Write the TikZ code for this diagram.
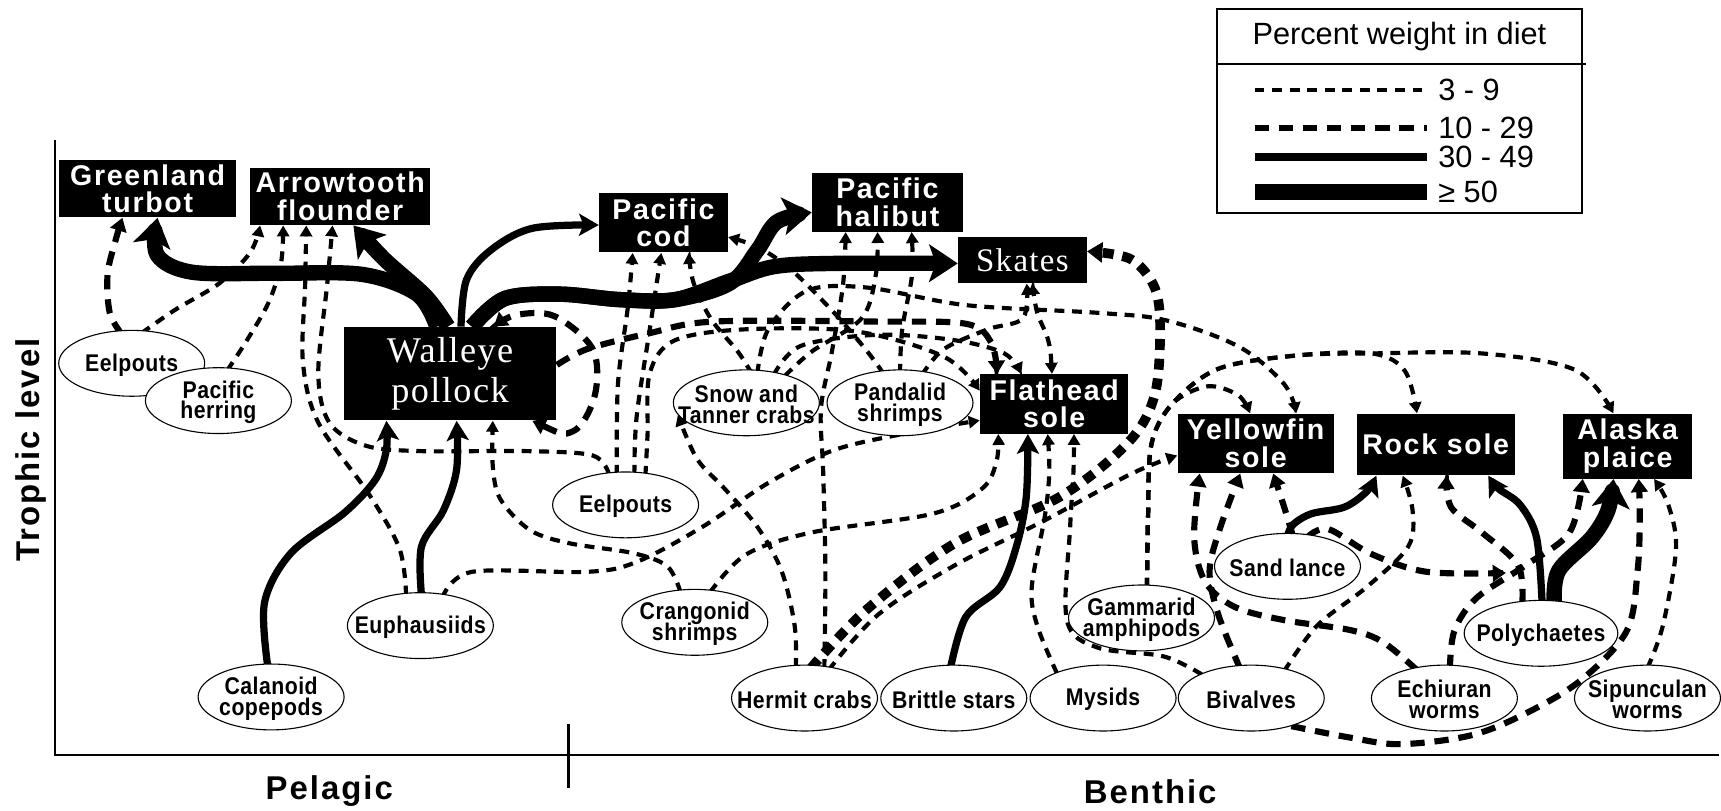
\documentclass[tikz,border=0pt]{standalone}
\usepackage{fontspec}
\usetikzlibrary{shapes.geometric,arrows.meta,calc}
\setmainfont{Liberation Sans}
\newfontfamily\lsans[LetterSpace=6]{Liberation Sans}
\newfontfamily\nsans[FakeStretch=0.88,LetterSpace=2]{Liberation Sans}
\newfontfamily\lserif[LetterSpace=4]{Liberation Serif}
\newcommand\pl[1]{\makebox[0pt]{\raisebox{-0.6ex}[0pt][0pt]{\parbox[c]{90pt}{\centering\lineskiplimit=-20pt #1}}}}
\pgfdeclarelayer{bg}
\pgfsetlayers{bg,main}
\tikzset{
 box/.style={fill=black,text=white,inner sep=0pt,align=center,font=\lsans\bfseries\fontsize{13}{12.5}\selectfont},
 prey/.style={ellipse,draw,line width=0.5pt,fill=white,inner sep=0pt,minimum width=66.5pt,minimum height=30pt,font=\nsans\bfseries\fontsize{11}{9.5}\selectfont},
 axlab/.style={font=\lsans\bfseries\fontsize{15}{17}\selectfont},
 wA/.style={line width=1.9pt,dash pattern=on 4.5pt off 3.5pt},
 wB/.style={line width=2.8pt,dash pattern=on 6.5pt off 4.5pt},
 wC/.style={line width=3.3pt},
 wD/.style={line width=7pt},
 wE/.style={line width=4.4pt,dash pattern=on 5pt off 4pt},
 aA/.style={wA,-{Triangle[length=5pt,width=5.5pt]}},
 aB/.style={wB,-{Triangle[length=6pt,width=7.5pt]}},
 aBB/.style={wB,{Triangle[length=6pt,width=7.5pt]}-{Triangle[length=6pt,width=7.5pt]}},
 aAA/.style={wA,{Triangle[length=5pt,width=5.5pt]}-{Triangle[length=5pt,width=5.5pt]}},
 aC/.style={wC,line join=round,-{Stealth[length=9pt,width=10pt,inset=2pt]}},
 aD/.style={wD,line join=round,-{Stealth[length=13pt,width=17pt,inset=3pt]}},
 aE/.style={wE,-{Triangle[length=7pt,width=9pt]}},
 sm/.style={smooth,tension=0.55},
}
\begin{document}
\begin{tikzpicture}[x=0.5pt,y=-0.5pt]
\useasboundingbox (0,0) rectangle (1568,738);
% axes
\coordinate (yTop) at (50,128); \coordinate (orig) at (50,688); \coordinate (xEnd) at (1566,688);
\draw[line width=1.1pt] (yTop) -- (orig) -- (xEnd);
\coordinate (tA) at (518,660); \coordinate (tB) at (518,718);
\draw[line width=1.1pt] (tA) -- (tB);
\node[axlab,rotate=90] (ylab) at (28,410) {Trophic level};
\node[axlab] (pel) at (300,721) {Pelagic};
\node[axlab] (ben) at (1048,721) {Benthic};
% legend
\node[draw,line width=0.8pt,minimum width=166pt,minimum height=93pt,inner sep=0pt] (leg) at (1275,101) {};
\coordinate (sepL) at (1109,58); \coordinate (sepR) at (1445,58);
\draw[line width=0.8pt] (sepL) -- (sepR);
\node[font=\fontsize{14}{16}\selectfont] (legT) at (1275,33) {Percent weight in diet};
\coordinate (L1a) at (1143,82); \coordinate (L1b) at (1300,82);
\coordinate (L2a) at (1143,117); \coordinate (L2b) at (1300,117);
\coordinate (L3a) at (1143,143); \coordinate (L3b) at (1300,143);
\coordinate (L4a) at (1143,175); \coordinate (L4b) at (1300,175);
\draw[wA] (L1a) -- (L1b);
\draw[wB] (L2a) -- (L2b);
\draw[wC] (L3a) -- (L3b);
\draw[wD] (L4a) -- (L4b);
\node[anchor=west,font=\fontsize{14}{16}\selectfont,inner sep=0pt] (lab1) at (1310,82) {3 - 9};
\node[anchor=west,font=\fontsize{14}{16}\selectfont,inner sep=0pt] (lab2) at (1310,117) {10 - 29};
\node[anchor=west,font=\fontsize{14}{16}\selectfont,inner sep=0pt] (lab3) at (1310,143) {30 - 49};
\node[anchor=west,font=\fontsize{14}{16}\selectfont,inner sep=0pt] (lab4) at (1310,175) {≥ 50};
% predators
\node[box,minimum width=80.5pt,minimum height=26pt] (GT) at (134.5,172) {Greenland\\turbot};
\node[box,minimum width=82pt,minimum height=26pt] (AF) at (310,179) {Arrowtooth\\flounder};
\node[box,minimum width=58.5pt,minimum height=27pt] (PC) at (604.5,203) {Pacific\\cod};
\node[box,minimum width=68.5pt,minimum height=26.5pt] (PH) at (808.5,184.5) {Pacific\\halibut};
\node[box,minimum width=58.5pt,minimum height=21pt,font=\lserif\fontsize{15}{16}\selectfont] (SK) at (931.5,237) {Skates};
\node[box,minimum width=97pt,minimum height=42.5pt,font=\lserif\fontsize{16.5}{18}\selectfont] (WP) at (410,340.5) {Walleye\\pollock};
\node[box,minimum width=67.5pt,minimum height=27pt] (FS) at (960.5,368) {Flathead\\sole};
\node[box,minimum width=71pt,minimum height=27pt] (YS) at (1144,404) {Yellowfin\\sole};
\node[box,minimum width=72pt,minimum height=28pt] (RS) at (1308,405) {Rock sole};
\node[box,minimum width=59pt,minimum height=29.5pt] (AP) at (1483,406.5) {Alaska\\plaice};
% prey
\node[prey] (EL1) at (120,331) {\pl{Eelpouts}};
\node[prey] (PHr) at (199,365) {\pl{Pacific\\herring}};
\node[prey] (SnT) at (680,367) {\pl{Snow and\\Tanner crabs}};
\node[prey] (PaS) at (820,367) {\pl{Pandalid\\shrimps}};
\node[prey] (EL2) at (570,460) {\pl{Eelpouts}};
\node[prey] (Eup) at (383,570) {\pl{Euphausiids}};
\node[prey] (Cal) at (247,635) {\pl{Calanoid\\copepods}};
\node[prey] (Cra) at (633,567) {\pl{Crangonid\\shrimps}};
\node[prey] (Gam) at (1040,563) {\pl{Gammarid\\amphipods}};
\node[prey] (SL) at (1173,516) {\pl{Sand lance}};
\node[prey,minimum width=70pt] (Poly) at (1404,577) {\pl{Polychaetes}};
\node[prey] (HC) at (733,636) {\pl{Hermit crabs}};
\node[prey] (BS) at (869,636) {\pl{Brittle stars}};
\node[prey] (My) at (1005,636) {\pl{Mysids}};
\node[prey] (Bv) at (1140,636) {\pl{Bivalves}};
\node[prey] (Ech) at (1316,636) {\pl{Echiuran\\worms}};
\node[prey] (Sip) at (1501,636) {\pl{Sipunculan\\worms}};
\coordinate (pq) at (1372,522);
\begin{pgfonlayer}{bg}
% walleye pollock as prey
\draw[aD] plot[sm] coordinates {($(WP.north)+(-12,0)$) (380,268) (330,250) (250,249) (175,248) (143,232) ($(GT.south)+(9,0)$)};
\draw[aD] plot[sm] coordinates {($(WP.north)+(-2,0)$) (388,270) (350,236) ($(AF.south)+(12,0)$)};
\draw[aC] plot[sm] coordinates {($(WP.north)+(10,0)$) (425,255) (447,228) (485,208) ($(PC.west)+(0,2)$)};
\draw[aD] plot[sm] coordinates {($(WP.north)+(20,0)$) (460,272) (510,268) (565,273) (615,273) (665,258) (690,228) (708,202) ($(PH.west)+(0,9)$)};
\draw[aD] plot[sm] coordinates {($(WP.north)+(20,0)$) (460,272) (510,268) (565,273) (615,273) (665,256) (705,243) (760,240) ($(SK.west)+(0,3)$)};
\draw[aB] plot[sm] coordinates {($(WP.east)+(0,-8)$) (535,318) (590,304) (650,293) (800,293) (880,295) (903,312) ($(FS.north)+(-52,0)$)};
\draw[aBB] plot[sm] coordinates {($(WP.south)+(75,0)$) (522,393) (542,360) (540,318) (505,288) (470,287) ($(WP.north)+(40,0)$)};
% Greenland turbot, arrowtooth
\draw[aB] plot[sm] coordinates {($(EL1.north)+(-9,4)$) (100,285) (98,250) (105,220) ($(GT.south)+(-23,0)$)};
\draw[aA] plot[sm] coordinates {($(EL1.north)+(9,3)$) (160,282) (200,258) (228,230) ($(AF.south)+(-73,0)$)};
\draw[aA] plot[sm] coordinates {($(PHr.north)+(8,3)$) (225,310) (245,275) (256,240) ($(AF.south)+(-52,0)$)};
\draw[aA] plot[sm] coordinates {($(Eup.north)+(-13,3)$) (364,500) (336,450) (290,385) (276,330) (278,260) ($(AF.south)+(-31,0)$)};
\draw[aA] plot[sm] coordinates {($(EL2.north)+(-15,3)$) (540,415) (480,411) (383,411) (333,406) (300,385) (290,340) (298,260) ($(AF.south)+(-7,0)$)};
% into walleye pollock
\draw[aC] plot[sm] coordinates {($(Cal.north)+(-3,3)$) (241,549) (265,504) (314,467) (342,437) (352,410) ($(WP.south)+(-58,0)$)};
\draw[aC] plot[sm] coordinates {($(Eup.north)+(1,3)$) (384,498) (404,465) (416,428) ($(WP.south)+(6,0)$)};
\draw[aA] plot[sm] coordinates {($(Cra.north)+(-13,3)$) (608,516) (577,504) (519,495) (483,483) (456,455) (449,425) ($(WP.south)+(39,0)$)};
% into Pacific cod
\draw[aA] plot[sm] coordinates {($(EL2.north)+(-8,3)$) (563,350) (572,280) ($(PC.south)+(-28,0)$)};
\draw[aA] plot[sm] coordinates {($(EL2.north)+(8,3)$) (580,380) (592,300) ($(PC.south)+(-2,0)$)};
\draw[aA] plot[sm] coordinates {($(SnT.north)+(5,4)$) (672,320) (648,291) (632,258) ($(PC.south)+(23,0)$)};
\draw[aA] plot[sm] coordinates {($(PaS.north)+(-15,4)$) (790,320) (760,285) (720,245) (690,225) ($(PC.east)+(0,13)$)};
% into Pacific halibut
\draw[aA] plot[sm] coordinates {($(HC.north)+(18,4)$) (752,520) (750,430) (748,372) (758,320) (768,260) ($(PH.south)+(-38,0)$)};
\draw[aA] plot[sm] coordinates {($(SnT.north)+(35,6)$) (740,320) (785,290) (798,250) ($(PH.south)+(-9,0)$)};
\draw[aA] plot[sm] coordinates {($(PaS.north)+(0,4)$) (822,300) (831,250) ($(PH.south)+(22,0)$)};
% into skates
\draw[aAA] plot[sm] coordinates {($(FS.north)+(-2,0)$) (955,310) (945,285) ($(SK.south)+(9,0)$)};
\draw[aA] plot[sm] coordinates {($(PaS.north)+(20,5)$) (860,318) (900,300) (932,290) ($(SK.south)+(4,0)$)};
\draw[aE] plot[sm] coordinates {($(HC.north)+(6,3)$) (790,555) (870,495) (965,453) (1028,403) (1052,360) (1057,300) (1052,262) (1030,236) ($(SK.east)+(0,-8)$)};
% into flathead sole
\draw[aA] plot[sm] coordinates {($(Cra.north)+(14,3)$) (680,505) (740,485) (850,468) (895,445) (908,420) ($(FS.south)+(-51,0)$)};
\draw[aC] plot[sm] coordinates {($(BS.north)+(-3,3)$) (880,562) (911,535) (926,498) (935,453) ($(FS.south)+(-24,0)$)};
\draw[aA] plot[sm] coordinates {($(My.north)+(-42,8)$) (945,570) (940,535) (952,470) (956,430) ($(FS.south)+(-6,0)$)};
\draw[aA] plot[sm] coordinates {($(Bv.north)+(-45,9)$) (1060,598) (1000,590) (972,565) (975,480) (978,430) ($(FS.south)+(18,0)$)};
\draw[aA] plot[sm] coordinates {($(Eup.north)+(20,5)$) (430,521) (535,521) (580,512) (640,480) (700,440) (760,410) (830,394) ($(FS.west)+(0,15)$)};
\draw[aA] plot[sm] coordinates {($(SnT.north)+(25,5)$) (730,315) (800,305) (870,310) (915,322) ($(FS.north)+(-30,0)$)};
\draw[aA] plot[sm] coordinates {($(EL2.north)+(18,4)$) (590,395) (592,340) (615,310) (680,300) (780,302) (860,325) ($(FS.west)+(0,-12)$)};
% into snow crabs
\draw[aA] plot[sm] coordinates {($(HC.north)+(-8,3)$) (724,570) (712,520) (690,480) (660,445) (635,418) (SnT.190)};
% into yellowfin sole
\draw[aA] plot[sm] coordinates {($(HC.north)+(22,5)$) (800,560) (870,515) (950,475) (1030,432) ($(YS.west)+(0,11)$)};
\draw[aA] plot[sm] coordinates {($(SnT.north)+(10,4)$) (700,300) (735,265) (790,262) (880,278) (1000,285) (1063,292) (1129,316) (1170,350) ($(YS.north)+(37,0)$)};
\draw[aA] plot[sm] coordinates {($(Gam.north)+(5,3)$) (1046,470) (1049,405) (1068,368) (1100,352) (1128,360) ($(YS.north)+(-5,0)$)};
\draw[aB] plot[sm] coordinates {($(Bv.north)+(-10,4)$) (1110,560) (1102,520) (1112,480) ($(YS.south)+(-14,0)$)};
\draw[aB] plot[sm] coordinates {($(Ech.north)+(-25,5)$) (1260,585) (1230,574) (1170,565) (1125,553) (1098,530) (1088,490) ($(YS.south)+(-51,0)$)};
\draw[aB] plot[sm] coordinates {($(SL.north)+(5,3)$) (1170,462) ($(YS.south)+(16,0)$)};
\draw[aB] plot[sm] coordinates {($(SL.north)+(18,4)$) (1210,482) (1250,505) (1300,521) (pq)};
% into rock sole
\draw[aA] plot[sm] coordinates {($(Gam.north)+(5,3)$) (1046,470) (1049,405) (1068,368) (1110,336) (1180,324) (1250,322) (1280,338) ($(RS.north)+(-17,0)$)};
\draw[aC] plot[sm] coordinates {($(SL.north)+(0,3)$) (1178,478) (1195,468) (1225,462) (1245,448) ($(RS.south)+(-54,0)$)};
\draw[aA] plot[sm] coordinates {($(Bv.north)+(30,6)$) (1200,570) (1245,535) (1283,498) (1287,465) ($(RS.south)+(-30,0)$)};
\draw[aB] plot[sm] coordinates {($(Poly.north)+(-17,3)$) (1383,515) (1350,485) (1322,462) ($(RS.south)+(10,0)$)};
\draw[aC] plot[sm] coordinates {($(Poly.north)+(1,3)$) (1400,490) (1385,460) (1365,445) ($(RS.south)+(48,0)$)};
% into Alaska plaice
\draw[aA] plot[sm] coordinates {($(Gam.north)+(5,3)$) (1046,470) (1049,405) (1068,368) (1110,336) (1180,324) (1250,322) (1350,322) (1435,337) ($(AP.north)+(-13,0)$)};
\draw[aD] plot[sm] coordinates {($(Poly.north)+(12,3)$) (1420,520) (1450,490) (1465,465) ($(AP.south)+(-13,0)$)};
\draw[aB] plot[sm] coordinates {($(Ech.north)+(5,4)$) (1325,575) (1345,545) (1390,515) (1430,485) ($(AP.south)+(-41,0)$)};
\draw[aB] plot[sm] coordinates {(Bv.-35) (1230,672) (1276,678) (1340,670) (1390,650) (1440,620) (1482,575) (1492,520) (1494,470) ($(AP.south)+(10,0)$)};
\draw[aA] plot[sm] coordinates {($(Sip.north)+(0,3)$) (1515,570) (1527,500) (1520,460) ($(AP.south)+(24,0)$)};
\end{pgfonlayer}
\end{tikzpicture}
\end{document}
